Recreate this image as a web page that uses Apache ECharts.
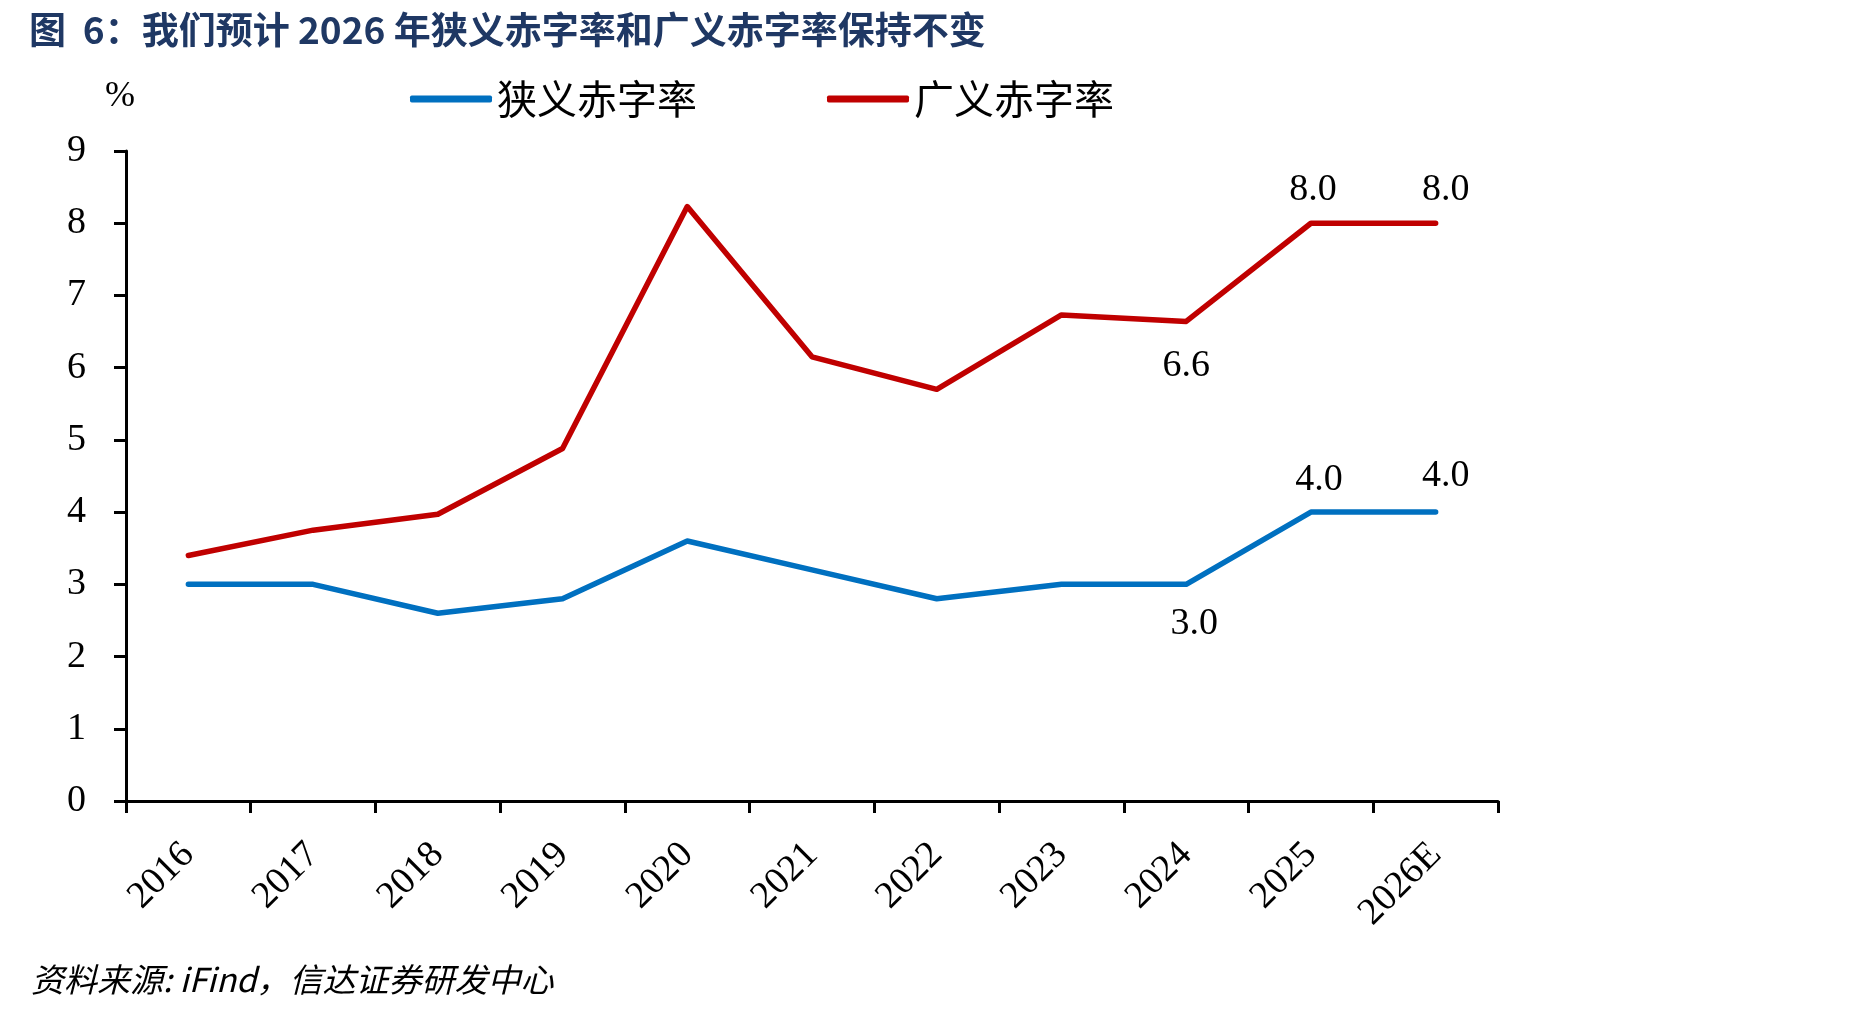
<!DOCTYPE html>
<html>
<head>
<meta charset="utf-8">
<script src="https://cdn.jsdelivr.net/npm/echarts@6/dist/echarts.min.js"></script>
<style>
   html, body { margin: 0; padding: 0; background: #fff; }
   #chart { width: 1866px; height: 1009px; }
</style>
</head>
<body>
<div id="chart"></div>
<script>
   // 年份
   const years = ["2016", "2017", "2018", "2019", "2020", "2021", "2022", "2023", "2024", "2025", "2026E"];
   // 狭义赤字率 (%)
   const narrowDeficit = [3.0, 3.0, 2.6, 2.8, 3.6, 3.2, 2.8, 3.0, 3.0, 4.0, 4.0];
   // 广义赤字率 (%)
   const broadDeficit = [3.4, 3.75, 3.97, 4.88, 8.23, 6.15, 5.7, 6.73, 6.64, 8.0, 8.0];
   // 标注的点: 索引 -> [位置, 距离, 水平偏移]
   const narrowLabels = { 8: ["bottom", 21, 8], 9: ["top", 13, 8], 10: ["top", 17, 10] };
   const broadLabels = { 8: ["bottom", 26, 0], 9: ["top", 14, 2], 10: ["top", 14, 10] };

   const serif = "'Liberation Serif', 'Times New Roman', serif";
   const cjk = "'Noto Sans CJK SC', sans-serif";

   function withLabels(values, labels) {
      return values.map(function(v, i) {
         let l = labels[i];
         if (l === undefined) return v;
         return {
            value: v,
            label: {
               show: true,
               position: l[0],
               distance: l[1],
               offset: [l[2], 0],
               formatter: function(p) { return p.value.toFixed(1); },
               fontFamily: serif,
               fontSize: 38,
               color: "#000"
            }
         };
      });
   }

   let myChart = echarts.init(document.getElementById("chart"));
   myChart.setOption({
      backgroundColor: "#fff",
      animation: false,
      title: [
         {
            text: "图  6：我们预计 2026 年狭义赤字率和广义赤字率保持不变",
            left: 24,
            top: 6,
            textStyle: { fontFamily: cjk, fontSize: 37, fontWeight: "bold", color: "#1F3864" }
         },
         {
            text: "资料来源: iFind，信达证券研发中心",
            left: 26,
            top: 958,
            textStyle: { fontFamily: cjk, fontSize: 33, fontWeight: "normal", fontStyle: "italic", color: "#000" }
         },
         {
            text: "%",
            left: 100,
            top: 74,
            textStyle: { fontFamily: serif, fontSize: 36, fontWeight: "normal", color: "#000" }
         }
      ],
      legend: {
         top: 74,
         left: 405,
         itemWidth: 82,
         itemHeight: 7,
         itemGap: 130,
         icon: "roundRect",
         textStyle: { fontFamily: cjk, fontSize: 40, color: "#000" },
         data: ["狭义赤字率", "广义赤字率"]
      },
      grid: { left: 126, right: 368, top: 151, bottom: 208, containLabel: false },
      xAxis: {
         type: "category",
         data: years,
         boundaryGap: true,
         axisLine: { lineStyle: { color: "#000", width: 3 } },
         axisTick: { show: true, length: 12, lineStyle: { color: "#000", width: 3 } },
         axisLabel: { rotate: 45, margin: 48, fontFamily: serif, fontSize: 38, color: "#000", interval: 0 },
         splitLine: { show: false }
      },
      yAxis: {
         type: "value",
         min: 0,
         max: 9,
         interval: 1,
         axisLine: { show: true, lineStyle: { color: "#000", width: 3 } },
         axisTick: { show: true, length: 12, lineStyle: { color: "#000", width: 3 } },
         axisLabel: { margin: 40, fontFamily: serif, fontSize: 38, color: "#000" },
         splitLine: { show: false }
      },
      series: [
         {
            name: "狭义赤字率",
            type: "line",
            data: withLabels(narrowDeficit, narrowLabels),
            symbol: "circle",
            symbolSize: 0,
            lineStyle: { color: "#0070C0", width: 5.5, cap: "round", join: "round" },
            itemStyle: { color: "#0070C0" }
         },
         {
            name: "广义赤字率",
            type: "line",
            data: withLabels(broadDeficit, broadLabels),
            symbol: "circle",
            symbolSize: 0,
            lineStyle: { color: "#C00000", width: 5.5, cap: "round", join: "round" },
            itemStyle: { color: "#C00000" }
         }
      ]
   });
</script>
</body>
</html>
